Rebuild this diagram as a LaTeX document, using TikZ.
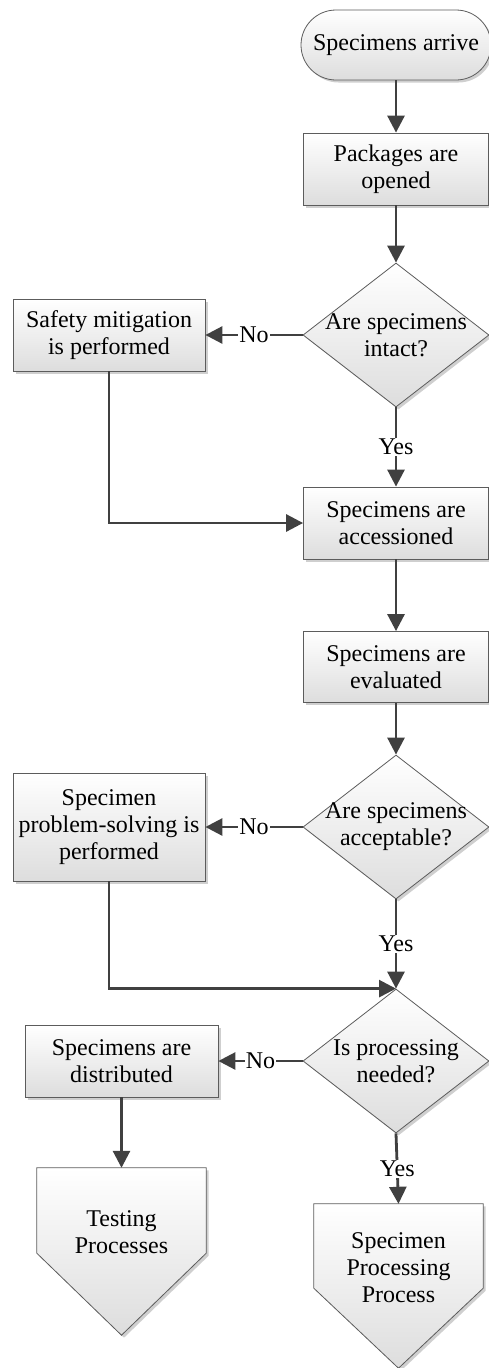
\documentclass[tikz,border=0pt]{standalone}
\usepackage{fontspec}
\setmainfont{Liberation Serif}
\usetikzlibrary{arrows.meta,positioning,calc,shapes.geometric,shadows}
\definecolor{linegray}{HTML}{5C5C5C}
\definecolor{arrowgray}{HTML}{404040}
\definecolor{shadegray}{HTML}{DDDDDD}
\definecolor{shadowgray}{HTML}{CFCFCF}
\tikzset{
  boxtext/.style={font=\fontsize{24}{27}\selectfont,align=center,text=black},
  procbox/.style={boxtext,draw=linegray,line width=0.8pt,top color=white,bottom color=shadegray,
    drop shadow={shadow xshift=2.5pt,shadow yshift=-2.5pt,fill=shadowgray,opacity=1},inner sep=0pt},
  decision/.style={procbox,diamond,minimum width=186pt,minimum height=144pt},
  pageshape/.style={draw=linegray,line width=0.8pt,top color=white,bottom color=shadegray,
    drop shadow={shadow xshift=2.5pt,shadow yshift=-2.5pt,fill=shadowgray,opacity=1}},
  flowarrow/.style={draw=arrowgray,line width=2.8pt,-{Triangle[length=17pt,width=17pt]}},
  answer/.style={boxtext,fill=white,inner sep=1pt},
}

\begin{document}
\begin{tikzpicture}[x=1pt,y=1pt]
\useasboundingbox (0,0) rectangle (488,-1368);

% main column
\node[procbox,rounded corners=35pt,minimum width=190pt,minimum height=70pt] (start) at (396,-45) {Specimens arrive};
\node[procbox,minimum width=185pt,minimum height=72pt] (pack) at (396,-169) {Packages are\\opened};
\node[decision,label={[boxtext]center:Are specimens\\intact?}] (q1) at (396,-335) {};
\node[procbox,minimum width=185pt,minimum height=72pt] (accn) at (396,-523) {Specimens are\\accessioned};
\node[procbox,minimum width=185pt,minimum height=71pt] (eval) at (396,-667) {Specimens are\\evaluated};
\node[decision,label={[boxtext]center:Are specimens\\acceptable?}] (q2) at (396,-827) {};
\node[decision,label={[boxtext]center:Is processing\\needed?}] (q3) at (396,-1061) {};

% side boxes
\node[procbox,minimum width=192pt,minimum height=72pt] (safety) at (109,-335) {Safety mitigation\\is performed};
\node[procbox,minimum width=192pt,minimum height=108pt] (prob) at (109,-827) {Specimen\\problem-solving is\\performed};
\node[procbox,minimum width=193pt,minimum height=72pt] (dist) at (121.5,-1061) {Specimens are\\distributed};

% off-page connectors
\node[minimum width=169pt,minimum height=85pt,inner sep=0pt] (test) at (121.5,-1210.5) {};
\path[pageshape] (test.north west) -- (test.north east) -- (test.south east)
  -- ($(test.south)+(0,-82)$) -- (test.south west) -- cycle;
\node[boxtext] (testtxt) at ($(test)+(0,-22)$) {Testing\\Processes};

\node[minimum width=169pt,minimum height=84pt,inner sep=0pt] (proc) at (398.5,-1246) {};
\path[pageshape] (proc.north west) -- (proc.north east) -- (proc.south east)
  -- ($(proc.south)+(0,-80)$) -- (proc.south west) -- cycle;
\node[boxtext] (proctxt) at ($(proc)+(0,-22)$) {Specimen\\Processing\\Process};

% connectors
\draw[flowarrow] (start) -- (pack);
\draw[flowarrow] (pack) -- (q1);
\draw[flowarrow] (q1) -- node[answer]{No} (safety);
\draw[flowarrow] (q1) -- node[answer]{Yes} (accn);
\draw[flowarrow] (safety.south) |- (accn.west);
\draw[flowarrow] (accn) -- (eval);
\draw[flowarrow] (eval) -- (q2);
\draw[flowarrow] (q2) -- node[answer]{No} (prob);
\draw[flowarrow] (q2) -- node[answer]{Yes} (q3);
\draw[flowarrow] (prob.south) |- (q3.north);
\draw[flowarrow] (q3) -- node[answer]{No} (dist);
\draw[flowarrow] (q3.south) -- node[answer]{Yes} (proc.north);
\draw[flowarrow] (dist) -- (test);
\end{tikzpicture}
\end{document}
